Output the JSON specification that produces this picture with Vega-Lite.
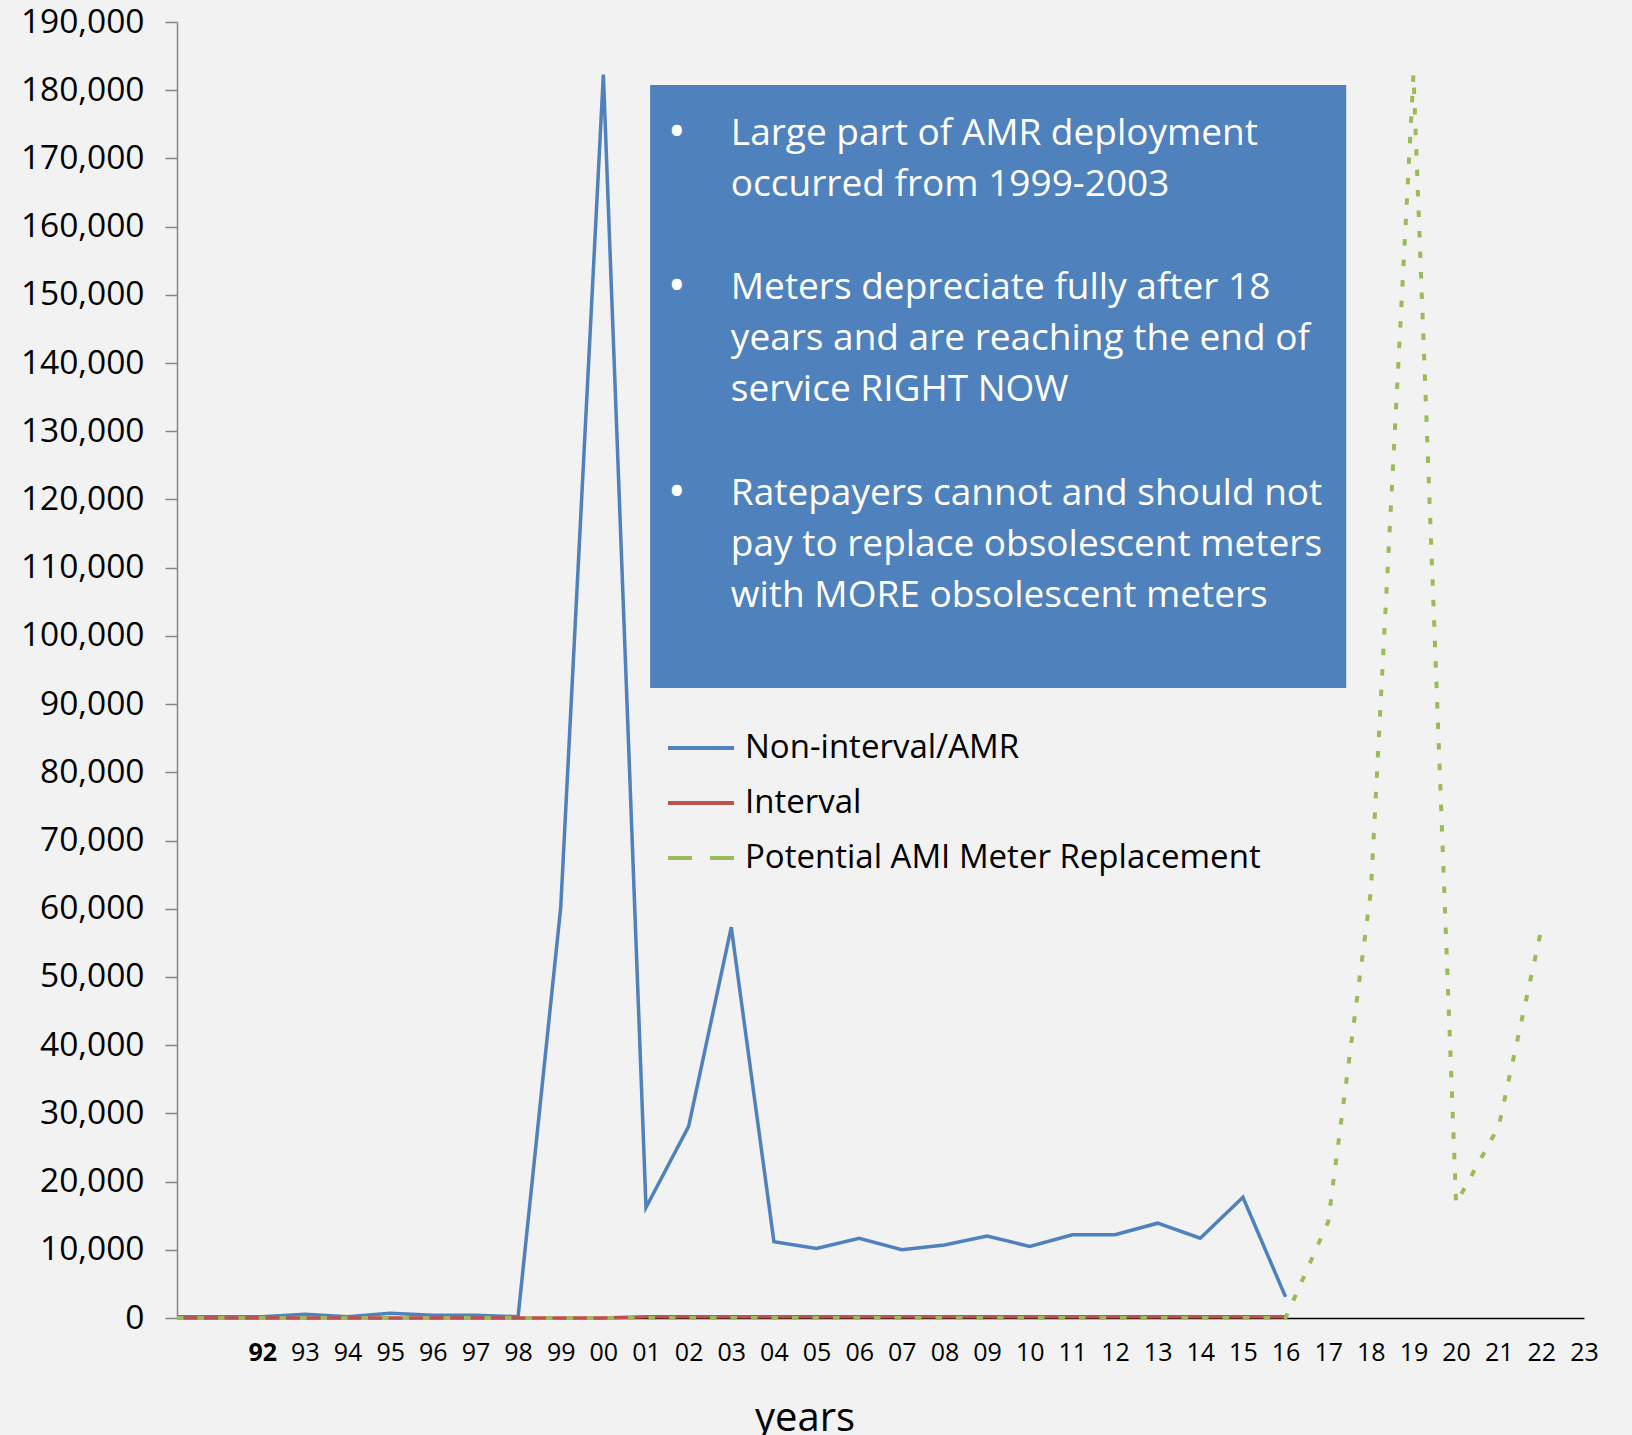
{
  "$schema": "https://vega.github.io/schema/vega-lite/v6.json",
  "width": 1407,
  "height": 1296,
  "autosize": "none",
  "padding": {"left": 177, "top": 22, "right": 48, "bottom": 117},
  "background": "#F2F2F2",
  "config": {
    "view": {"stroke": null},
    "font": "Open Sans",
    "axisY": {"grid": false, "labelFont": "Open Sans", "labelFontSize": 33.5, "labelColor": "#000000", "tickSize": 12, "tickColor": "#868686", "tickWidth": 1.5, "domainColor": "#868686", "domainWidth": 1.5, "labelPadding": 21},
    "axisX": {"grid": false}
  },
  "datasets": {
    "notes": [
      {"x": 12.99, "y": 172015, "t": "Large part of AMR deployment\noccurred from 1999-2003"},
      {"x": 12.99, "y": 149399, "t": "Meters depreciate fully after 18\nyears and are reaching the end of\nservice RIGHT NOW"},
      {"x": 12.99, "y": 119258, "t": "Ratepayers cannot and should not\npay to replace obsolescent meters\nwith MORE obsolescent meters"}
    ],
    "box": [{"x1": 11.096, "x2": 27.423, "top": 180760, "bottom": 92375}],
    "meters": [
      {"year": "90", "series": "Non-interval/AMR", "value": 200},
      {"year": "91", "series": "Non-interval/AMR", "value": 200},
      {"year": "92", "series": "Non-interval/AMR", "value": 200},
      {"year": "93", "series": "Non-interval/AMR", "value": 550},
      {"year": "94", "series": "Non-interval/AMR", "value": 200},
      {"year": "95", "series": "Non-interval/AMR", "value": 700},
      {"year": "96", "series": "Non-interval/AMR", "value": 400},
      {"year": "97", "series": "Non-interval/AMR", "value": 400},
      {"year": "98", "series": "Non-interval/AMR", "value": 200},
      {"year": "99", "series": "Non-interval/AMR", "value": 60200},
      {"year": "00", "series": "Non-interval/AMR", "value": 182300},
      {"year": "01", "series": "Non-interval/AMR", "value": 16200},
      {"year": "02", "series": "Non-interval/AMR", "value": 28100},
      {"year": "03", "series": "Non-interval/AMR", "value": 57300},
      {"year": "04", "series": "Non-interval/AMR", "value": 11200},
      {"year": "05", "series": "Non-interval/AMR", "value": 10200},
      {"year": "06", "series": "Non-interval/AMR", "value": 11700},
      {"year": "07", "series": "Non-interval/AMR", "value": 10000},
      {"year": "08", "series": "Non-interval/AMR", "value": 10700},
      {"year": "09", "series": "Non-interval/AMR", "value": 12000},
      {"year": "10", "series": "Non-interval/AMR", "value": 10500},
      {"year": "11", "series": "Non-interval/AMR", "value": 12200},
      {"year": "12", "series": "Non-interval/AMR", "value": 12200},
      {"year": "13", "series": "Non-interval/AMR", "value": 13900},
      {"year": "14", "series": "Non-interval/AMR", "value": 11700},
      {"year": "15", "series": "Non-interval/AMR", "value": 17700},
      {"year": "16", "series": "Non-interval/AMR", "value": 3100},
      {"year": "90", "series": "Interval", "value": 0},
      {"year": "91", "series": "Interval", "value": 0},
      {"year": "92", "series": "Interval", "value": 0},
      {"year": "93", "series": "Interval", "value": 0},
      {"year": "94", "series": "Interval", "value": 0},
      {"year": "95", "series": "Interval", "value": 0},
      {"year": "96", "series": "Interval", "value": 0},
      {"year": "97", "series": "Interval", "value": 0},
      {"year": "98", "series": "Interval", "value": 0},
      {"year": "99", "series": "Interval", "value": 0},
      {"year": "00", "series": "Interval", "value": 0},
      {"year": "01", "series": "Interval", "value": 200},
      {"year": "02", "series": "Interval", "value": 200},
      {"year": "03", "series": "Interval", "value": 200},
      {"year": "04", "series": "Interval", "value": 200},
      {"year": "05", "series": "Interval", "value": 200},
      {"year": "06", "series": "Interval", "value": 200},
      {"year": "07", "series": "Interval", "value": 200},
      {"year": "08", "series": "Interval", "value": 200},
      {"year": "09", "series": "Interval", "value": 200},
      {"year": "10", "series": "Interval", "value": 200},
      {"year": "11", "series": "Interval", "value": 200},
      {"year": "12", "series": "Interval", "value": 200},
      {"year": "13", "series": "Interval", "value": 200},
      {"year": "14", "series": "Interval", "value": 200},
      {"year": "15", "series": "Interval", "value": 200},
      {"year": "16", "series": "Interval", "value": 200},
      {"year": "90", "series": "Potential AMI Meter Replacement", "value": 0},
      {"year": "91", "series": "Potential AMI Meter Replacement", "value": 0},
      {"year": "92", "series": "Potential AMI Meter Replacement", "value": 0},
      {"year": "93", "series": "Potential AMI Meter Replacement", "value": 0},
      {"year": "94", "series": "Potential AMI Meter Replacement", "value": 0},
      {"year": "95", "series": "Potential AMI Meter Replacement", "value": 0},
      {"year": "96", "series": "Potential AMI Meter Replacement", "value": 0},
      {"year": "97", "series": "Potential AMI Meter Replacement", "value": 0},
      {"year": "98", "series": "Potential AMI Meter Replacement", "value": 0},
      {"year": "99", "series": "Potential AMI Meter Replacement", "value": 0},
      {"year": "00", "series": "Potential AMI Meter Replacement", "value": 0},
      {"year": "01", "series": "Potential AMI Meter Replacement", "value": 0},
      {"year": "02", "series": "Potential AMI Meter Replacement", "value": 0},
      {"year": "03", "series": "Potential AMI Meter Replacement", "value": 0},
      {"year": "04", "series": "Potential AMI Meter Replacement", "value": 0},
      {"year": "05", "series": "Potential AMI Meter Replacement", "value": 0},
      {"year": "06", "series": "Potential AMI Meter Replacement", "value": 0},
      {"year": "07", "series": "Potential AMI Meter Replacement", "value": 0},
      {"year": "08", "series": "Potential AMI Meter Replacement", "value": 0},
      {"year": "09", "series": "Potential AMI Meter Replacement", "value": 0},
      {"year": "10", "series": "Potential AMI Meter Replacement", "value": 0},
      {"year": "11", "series": "Potential AMI Meter Replacement", "value": 0},
      {"year": "12", "series": "Potential AMI Meter Replacement", "value": 0},
      {"year": "13", "series": "Potential AMI Meter Replacement", "value": 0},
      {"year": "14", "series": "Potential AMI Meter Replacement", "value": 0},
      {"year": "15", "series": "Potential AMI Meter Replacement", "value": 0},
      {"year": "16", "series": "Potential AMI Meter Replacement", "value": 0},
      {"year": "17", "series": "Potential AMI Meter Replacement", "value": 14100},
      {"year": "18", "series": "Potential AMI Meter Replacement", "value": 62500},
      {"year": "19", "series": "Potential AMI Meter Replacement", "value": 182300},
      {"year": "20", "series": "Potential AMI Meter Replacement", "value": 16800},
      {"year": "21", "series": "Potential AMI Meter Replacement", "value": 28100},
      {"year": "22", "series": "Potential AMI Meter Replacement", "value": 57000}
    ]
  },
  "layer": [
    {
      "layer": [
        {
          "data": {"name": "box"},
          "mark": {"type": "rect", "fill": "#4F81BD"},
          "encoding": {
            "x": {"field": "x1", "type": "quantitative", "scale": {"domain": [0, 33], "nice": false, "zero": false}, "axis": null},
            "x2": {"field": "x2"},
            "y": {"field": "top", "type": "quantitative", "scale": {"domain": [0, 190000], "nice": false}, "title": null},
            "y2": {"field": "bottom"}
          }
        },
        {
          "data": {"name": "notes"},
          "mark": {"type": "text", "text": "•", "align": "center", "baseline": "alphabetic", "dx": -54, "dy": 3, "fontSize": 48, "font": "Open Sans", "color": "#FFFFFF"},
          "encoding": {
            "x": {"field": "x", "type": "quantitative"},
            "y": {"field": "y", "type": "quantitative", "title": null}
          }
        },
        {
          "data": {"name": "notes"},
          "mark": {"type": "text", "align": "left", "baseline": "alphabetic", "lineBreak": "\n", "lineHeight": 51, "fontSize": 37, "font": "Open Sans", "color": "#FFFFFF"},
          "encoding": {
            "x": {"field": "x", "type": "quantitative"},
            "y": {"field": "y", "type": "quantitative", "title": null},
            "text": {"field": "t", "type": "nominal"}
          }
        }
      ]
    },
    {
      "data": {"name": "meters"},
      "encoding": {
        "x": {
          "field": "year", "type": "ordinal",
          "scale": {"type": "point", "padding": 0, "domain": ["90","91","92","93","94","95","96","97","98","99","00","01","02","03","04","05","06","07","08","09","10","11","12","13","14","15","16","17","18","19","20","21","22","23"]},
          "axis": {
            "orient": "bottom",
            "title": "years", "titleFont": "Open Sans", "titleFontSize": 40, "titleFontWeight": "normal", "titleColor": "#000000",
            "titleX": 627.6, "titleY": 112, "titleAlign": "center", "titleBaseline": "alphabetic",
            "labelExpr": "datum.value == '90' || datum.value == '91' ? '' : datum.value",
            "labelFont": "Open Sans", "labelFontSize": 25, "labelColor": "#000000", "labelPadding": 22, "labelAngle": 0, "labelOverlap": false,
            "labelFontWeight": {"condition": {"test": "datum.value == '92'", "value": "bold"}, "value": "normal"},
            "ticks": false, "domainColor": "#000000", "domainWidth": 1.5
          }
        },
        "y": {
          "field": "value", "type": "quantitative",
          "scale": {"domain": [0, 190000], "nice": false},
          "axis": {"title": null, "values": [0,10000,20000,30000,40000,50000,60000,70000,80000,90000,100000,110000,120000,130000,140000,150000,160000,170000,180000,190000], "format": ",.0f"}
        },
        "color": {
          "field": "series", "type": "nominal",
          "scale": {"domain": ["Non-interval/AMR", "Interval", "Potential AMI Meter Replacement"], "range": ["#4F81BD", "#C0504D", "#9BBB59"]},
          "legend": {
            "orient": "none", "legendX": 489, "legendY": 691, "title": null,
            "symbolType": "stroke", "symbolSize": 4356, "symbolStrokeWidth": 4,
            "labelFont": "Open Sans", "labelFontSize": 33, "labelColor": "#000000", "labelOffset": 9, "rowPadding": 3, "labelLimit": 0,
            "encode": {"symbols": {"update": {"strokeDash": {"signal": "datum.value === 'Potential AMI Meter Replacement' ? [24, 18] : [1, 0]"}}}}
          }
        }
      },
      "layer": [
        {
          "transform": [{"filter": "datum.series != 'Potential AMI Meter Replacement'"}],
          "mark": {"type": "line", "strokeWidth": 3.5}
        },
        {
          "transform": [{"filter": "datum.series == 'Potential AMI Meter Replacement'"}],
          "mark": {"type": "line", "strokeWidth": 4, "strokeDash": [6.5, 14]}
        }
      ]
    }
  ],
  "resolve": {"scale": {"x": "independent"}}
}
